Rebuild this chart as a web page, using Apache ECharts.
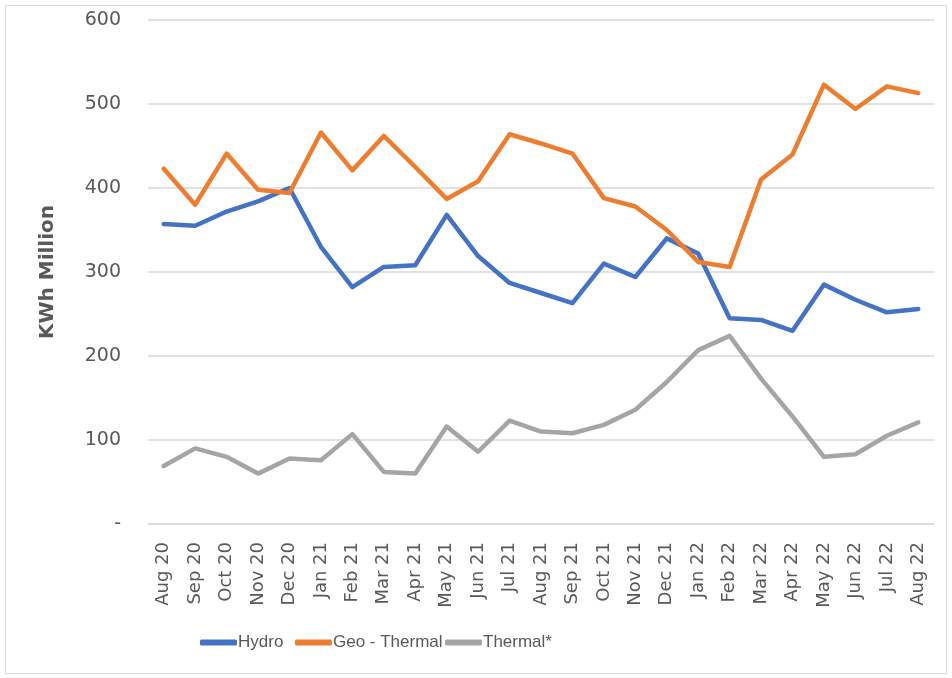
<!DOCTYPE html>
<html>
<head>
<meta charset="utf-8">
<script src="https://cdn.jsdelivr.net/npm/echarts@6/dist/echarts.min.js"></script>
<style>
  html, body { margin: 0; padding: 0; background: #fff; }
  #main { width: 952px; height: 678px; }
</style>
</head>
<body>
<div id="main"></div>
<script>
var months = ['Aug 20', 'Sep 20', 'Oct 20', 'Nov 20', 'Dec 20', 'Jan 21', 'Feb 21', 'Mar 21', 'Apr 21',
    'May 21', 'Jun 21', 'Jul 21', 'Aug 21', 'Sep 21', 'Oct 21', 'Nov 21', 'Dec 21', 'Jan 22', 'Feb 22',
    'Mar 22', 'Apr 22', 'May 22', 'Jun 22', 'Jul 22', 'Aug 22'];
var hydro = [357, 355, 372, 384, 400, 330, 282, 306, 308, 368, 319, 287, 275, 263, 310, 294, 340, 322,
    245, 243, 230, 285, 267, 252, 256];
var geoThermal = [423, 380, 441, 398, 394, 466, 421, 462, 425, 387, 408, 464, 453, 441, 388, 378, 350,
    312, 306, 410, 440, 523, 494, 521, 513];
var thermal = [69, 90, 80, 60, 78, 76, 107, 62, 60, 116, 86, 123, 110, 108, 118, 136, 169, 207, 224,
    173, 128, 80, 83, 105, 121];
var seriesNames = ['Hydro', 'Geo - Thermal', 'Thermal*'];

var textColor = '#595959';
var gridColor = '#d9d9d9';

function lineSeries(name, data, color) {
    return {
        name: name,
        type: 'line',
        data: data,
        symbol: 'none',
        lineStyle: { width: 4.5, color: color, cap: 'round', join: 'round' },
        itemStyle: { color: color }
    };
}

// one legend per item so each key sits where it does in the original
function legendAt(name, left) {
    return {
        left: left,
        top: 629,
        itemWidth: 37,
        itemHeight: 6,
        icon: 'roundRect',
        textStyle: { color: textColor, fontSize: 17, fontFamily: '"Liberation Sans", sans-serif', padding: [0, 0, 0, -4] },
        data: [name]
    };
}

var myChart = echarts.init(document.getElementById('main'));
myChart.setOption({
    animation: false,
    graphic: [{
        type: 'rect',
        shape: { x: 5.5, y: 5.5, width: 941, height: 668 },
        style: { fill: 'none', stroke: gridColor, lineWidth: 1 },
        silent: true
    }],
    grid: { left: 148, right: 18, top: 20, bottom: 154 },
    legend: [
        legendAt(seriesNames[0], 195),
        legendAt(seriesNames[1], 290),
        legendAt(seriesNames[2], 440)
    ],
    xAxis: {
        type: 'category',
        data: months,
        boundaryGap: true,
        axisLine: { lineStyle: { color: gridColor, width: 1.5 } },
        axisTick: { show: false },
        axisLabel: {
            rotate: 90,
            interval: 0,
            margin: 18,
            color: textColor,
            fontSize: 18,
            fontFamily: '"DejaVu Sans", sans-serif'
        }
    },
    yAxis: {
        type: 'value',
        min: 0,
        max: 600,
        interval: 100,
        name: 'KWh Million',
        nameLocation: 'middle',
        nameGap: 90,
        nameTextStyle: { color: textColor, fontSize: 20, fontWeight: 'bold', fontFamily: '"DejaVu Sans", sans-serif' },
        axisLine: { show: false },
        axisTick: { show: false },
        splitLine: { lineStyle: { color: gridColor, width: 1.5 } },
        axisLabel: {
            margin: 27,
            color: textColor,
            fontSize: 19,
            fontFamily: '"DejaVu Sans", sans-serif',
            formatter: function (v) { return v === 0 ? '-' : v; }
        }
    },
    series: [
        lineSeries(seriesNames[0], hydro, '#4472c4'),
        lineSeries(seriesNames[1], geoThermal, '#ed7d31'),
        lineSeries(seriesNames[2], thermal, '#a5a5a5')
    ]
});
</script>
</body>
</html>
